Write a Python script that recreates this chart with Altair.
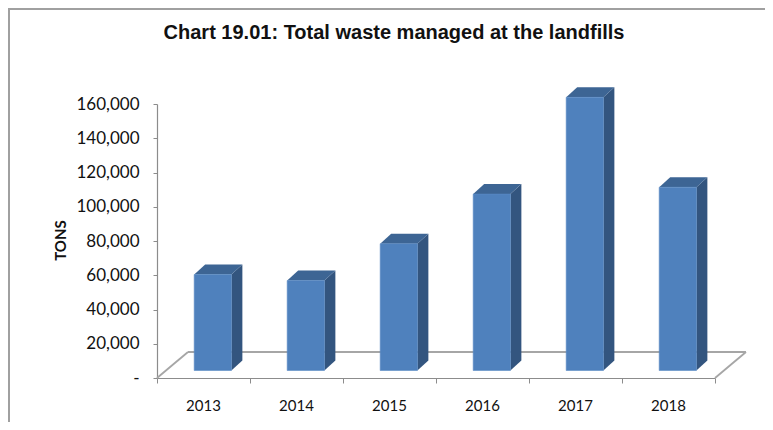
import altair as alt
import pandas as pd

# ---- data ----
years = ["2013", "2014", "2015", "2016", "2017", "2018"]
tons = [56000, 52500, 74000, 103000, 159500, 107000]
y_ticks = [0, 20000, 40000, 60000, 80000, 100000, 120000, 140000, 160000]
title_text = "Chart 19.01: Total waste managed at the landfills"
y_title = "TONS"

# ---- 3D styling constants (in scale units) ----
FRONT_L, FRONT_R = 0.40, 0.80     # front face inside each category band
DX, DY = 0.118, 5840              # bar depth offset
BASE = 4380                        # bar base lifted onto the floor
FLOOR_DX, FLOOR_DY = 0.333, 15180  # floor depth
N = len(years)

W, H = 558, 274
PAD = {"left": 149, "top": 96, "right": 50, "bottom": 44}

front_col = "#4f81bd"
side_col = "#33557f"
top_col = "#3d6594"

rows_front, rows_side, rows_top = [], [], []
for i, (yr, v) in enumerate(zip(years, tons)):
    x0, x1 = i + FRONT_L, i + FRONT_R
    top = BASE + v
    rows_front.append({"year": yr, "x0": x0, "x1": x1, "y0": BASE, "y1": top, "tons": v})
    rows_side.append({"year": yr, "x": x1, "lo": BASE, "hi": top})
    rows_side.append({"year": yr, "x": x1 + DX, "lo": BASE + DY, "hi": top + DY})
    rows_top.append({"year": yr, "y": top, "xa": x0, "xb": x1})
    rows_top.append({"year": yr, "y": top + DY, "xa": x0 + DX, "xb": x1 + DX})

df_front = pd.DataFrame(rows_front)
df_side = pd.DataFrame(rows_side)
df_top = pd.DataFrame(rows_top)
df_lab = pd.DataFrame({"year": years, "xc": [i + 0.5 for i in range(N)]})
df_title = pd.DataFrame({"t": [title_text]})
df_floor = pd.DataFrame([
    {"x": 0, "y": 0, "x2": FLOOR_DX, "y2": FLOOR_DY},
    {"x": FLOOR_DX, "y": FLOOR_DY, "x2": N + FLOOR_DX, "y2": FLOOR_DY},
    {"x": N + FLOOR_DX, "y": FLOOR_DY, "x2": N, "y2": 0},
])

xscale = alt.Scale(domain=[0, N], nice=False, zero=False)
yscale = alt.Scale(domain=[0, 160000], nice=False)

lab_font = "Lato"

x_axis = alt.Axis(values=list(range(N + 1)), labels=False, title=None, grid=False,
                  domainColor="#8c8c8c", tickColor="#8c8c8c", tickSize=5, domainWidth=1.2)
y_axis = alt.Axis(values=y_ticks, title=y_title, grid=False, labelOverlap=False,
                  labelExpr="datum.value == 0 ? '-\u00a0\u00a0\u00a0' : format(datum.value, ',')",
                  labelFont=lab_font, labelFontSize=17, labelColor="#111111", labelPadding=14,
                  domainColor="#8c8c8c", tickColor="#8c8c8c", tickSize=4, domainWidth=1.2,
                  titleFont="Lato", titleFontWeight="bold", titleFontSize=15, titleColor="#111111",
                  titleAngle=-90, titleX=-97, titleY=136, titleAlign="center", titleBaseline="middle")


def X(field):
    return alt.X(field, type="quantitative", scale=xscale, axis=x_axis)


def Y(field):
    return alt.Y(field, type="quantitative", scale=yscale, axis=y_axis)


floor = alt.Chart(df_floor).mark_rule(color="#a6a6a6", strokeWidth=1.8).encode(
    x=X("x"), x2="x2", y=Y("y"), y2="y2",
)

side = alt.Chart(df_side).mark_area(color=side_col, orient="vertical", clip=False).encode(
    x=X("x"), y=Y("lo"), y2="hi", detail="year:N",
)

topf = alt.Chart(df_top).mark_area(color=top_col, orient="horizontal", clip=False).encode(
    y=Y("y"), x=X("xa"), x2="xb", detail="year:N",
)

front = alt.Chart(df_front).mark_rect(color=front_col, stroke="#5b8cc6", strokeWidth=0.6).encode(
    x=X("x0"), x2="x1", y=Y("y0"), y2="y1",
    tooltip=["year:N", alt.Tooltip("tons:Q", format=",")],
)

xlabels = alt.Chart(df_lab).mark_text(font=lab_font, fontSize=15, color="#111111",
                                      baseline="middle", align="center").encode(
    x=X("xc"), y=alt.value(H + 28), text="year:N",
)

title = alt.Chart(df_title).mark_text(font="Liberation Sans", fontSize=20, fontWeight="bold",
                                      color="#111111", align="center", baseline="middle").encode(
    x=alt.value(237), y=alt.value(-71), text="t:N"
)

frame_top = alt.Chart(df_lab).mark_rule(color="#a0a0a0", strokeWidth=2).encode(
    x=alt.value(-PAD["left"]), x2=alt.value(W + PAD["right"]), y=alt.value(-PAD["top"] + 1)
)
frame_left = alt.Chart(df_lab).mark_rule(color="#a0a0a0", strokeWidth=2).encode(
    x=alt.value(-PAD["left"] + 1), y=alt.value(-PAD["top"]), y2=alt.value(H + PAD["bottom"])
)

chart = alt.layer(frame_top, frame_left, floor, side, topf, front, xlabels, title).properties(
    width=W, height=H,
    autosize=alt.AutoSizeParams(type="none"),
    padding=PAD,
    background="white",
).configure_view(stroke=None, strokeWidth=0)

chart.save("out.html", embed_options={"renderer": "svg", "actions": False})
